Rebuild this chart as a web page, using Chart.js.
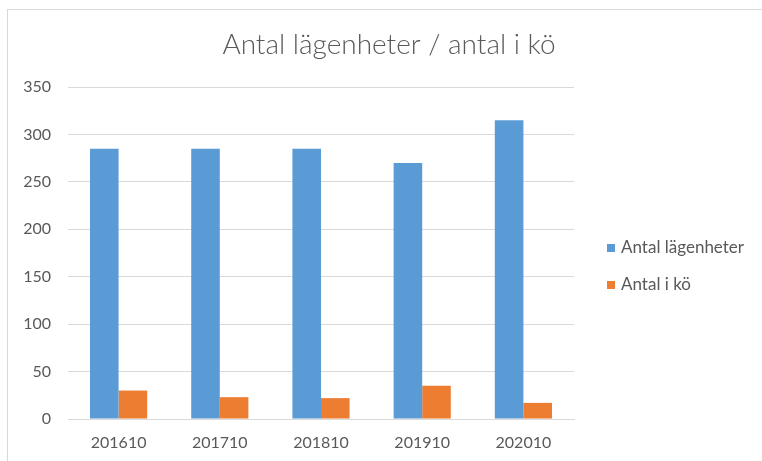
<!DOCTYPE html>
<html>
<head>
<meta charset="utf-8">
<script src="https://cdn.jsdelivr.net/npm/chart.js@4/dist/chart.umd.min.js"></script>
<style>
  html, body { margin: 0; padding: 0; background: #fff; overflow: hidden; }
  #wrap { position: relative; width: 762px; height: 461px; overflow: hidden; }
  #frame { position: absolute; left: 7px; top: 9px; width: 800px; height: 500px; border-top: 1px solid #d9d9d9; border-left: 1px solid #d9d9d9; }
  canvas { position: absolute; left: 0; top: 0; }
</style>
</head>
<body>
<div id="wrap">
  <div id="frame"></div>
  <canvas id="c" width="762" height="461"></canvas>
</div>
<script>
const chartTitle = "Antal lägenheter / antal i kö";
const categories = ["201610", "201710", "201810", "201910", "202010"];
const seriesNames = ["Antal lägenheter", "Antal i kö"];
const antalLagenheter = [285, 285, 285, 270, 315];
const antalIKo = [30, 23, 22, 35, 17];
const seriesColors = ["#5B9BD5", "#ED7D31"];

const textColor = "#595959";
const fontFamily = "Lato, 'Open Sans', sans-serif";

const customDecor = {
  id: 'customDecor',
  afterDraw(chart) {
    const ctx = chart.ctx;
    ctx.save();
    // title
    ctx.fillStyle = textColor;
    ctx.font = "300 28px " + fontFamily;
    ctx.textAlign = "center";
    ctx.textBaseline = "alphabetic";
    ctx.fillText(chartTitle, 389, 54);
    // legend
    ctx.font = "17px " + fontFamily;
    ctx.textAlign = "left";
    ctx.textBaseline = "middle";
    chart.data.datasets.forEach((ds, i) => {
      const y = 248 + i * 37;
      ctx.fillStyle = ds.backgroundColor;
      ctx.fillRect(607, y - 4, 8, 8);
      ctx.fillStyle = textColor;
      ctx.fillText(ds.label, 621, y);
    });
    ctx.restore();
  }
};

new Chart(document.getElementById('c'), {
  type: 'bar',
  data: {
    labels: categories,
    datasets: [
      { label: seriesNames[0], data: antalLagenheter, backgroundColor: seriesColors[0] },
      { label: seriesNames[1], data: antalIKo, backgroundColor: seriesColors[1] }
    ]
  },
  options: {
    responsive: false,
    animation: false,
    devicePixelRatio: 1,
    layout: { padding: { left: 0, right: 188, top: 87, bottom: 0 } },
    datasets: { bar: { barPercentage: 1.0, categoryPercentage: 0.565 } },
    plugins: { legend: { display: false }, title: { display: false }, tooltip: { enabled: false } },
    scales: {
      x: {
        afterFit(scale) { scale.height = 42; },
        grid: { display: false, drawTicks: false },
        border: { display: true, color: '#d9d9d9', width: 1 },
        ticks: { color: textColor, font: { family: fontFamily, size: 16 }, padding: 14 }
      },
      y: {
        min: 0, max: 350,
        afterFit(scale) { scale.width = 68; },
        grid: { color: '#d9d9d9', drawTicks: false, lineWidth: 1 },
        border: { display: false },
        ticks: { stepSize: 50, color: textColor, font: { family: fontFamily, size: 16 }, padding: 17 }
      }
    }
  },
  plugins: [customDecor]
});
</script>
</body>
</html>
